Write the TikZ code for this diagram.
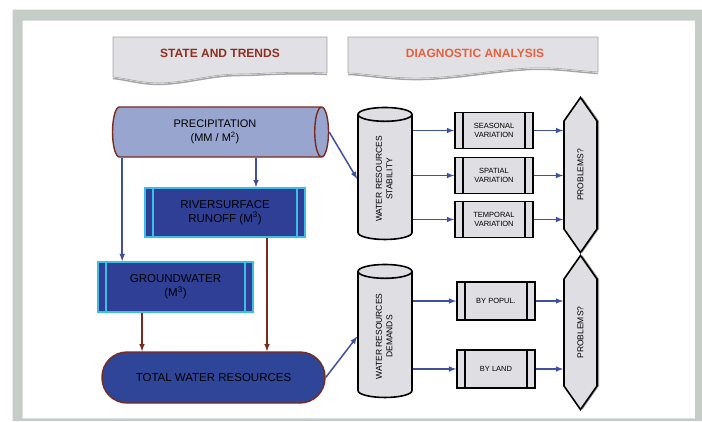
\documentclass[tikz,border=0pt]{standalone}
\usepackage{fontspec}
\setmainfont{Liberation Sans}
\usetikzlibrary{arrows}
\usetikzlibrary{shadows}
\usetikzlibrary{shapes}
\usetikzlibrary{positioning}
\definecolor{framegray}{HTML}{C6CDC9}
\definecolor{bannerfill}{HTML}{E1E1E5}
\definecolor{bannerline}{HTML}{A3A3A6}
\definecolor{statered}{HTML}{8E2F22}
\definecolor{diagorange}{HTML}{E5603F}
\definecolor{precipfill}{HTML}{97A5CF}
\definecolor{brownline}{HTML}{7A2B1E}
\definecolor{boxblue}{HTML}{2F3F95}
\definecolor{totalblue}{HTML}{2F4598}
\definecolor{cyanline}{HTML}{3DBEE6}
\definecolor{boxgray}{HTML}{DEDEE3}
\definecolor{arrowblue}{HTML}{4050A2}
\tikzset{connect/.style={draw, line width=1.5pt, arrowblue}}
\tikzset{feed/.style={draw, line width=1.5pt, brownline}}
\tikzset{precipcyl/.style={cylinder, draw=brownline, line width=1.4pt, fill=precipfill, aspect=0.45, text centered, align=center, font=\fontsize{11}{14}\selectfont}}
\tikzset{bluebox/.style={draw=cyanline, line width=1.6pt, fill=boxblue, text centered, align=center, font=\fontsize{11.5}{14}\selectfont,
  path picture={\draw[cyanline, line width=1.6pt] ([xshift=8]path picture bounding box.north west) -- ([xshift=8]path picture bounding box.south west);
                \draw[cyanline, line width=1.6pt] ([xshift=-8]path picture bounding box.north east) -- ([xshift=-8]path picture bounding box.south east);}}}
\tikzset{procbox/.style={draw, line width=1.6pt, fill=boxgray, minimum width=78, minimum height=36, text centered, align=center, font=\fontsize{7.5}{9.5}\selectfont,
  path picture={\draw[line width=1.6pt] ([xshift=8]path picture bounding box.north west) -- ([xshift=8]path picture bounding box.south west);
                \draw[line width=1.6pt] ([xshift=-8]path picture bounding box.north east) -- ([xshift=-8]path picture bounding box.south east);}}}
\tikzset{stackcyl/.style={cylinder, shape border rotate=90, draw, line width=1.6pt, fill=boxgray, aspect=0.5, minimum width=54, minimum height=132, font=\fontsize{8.5}{10.5}\selectfont}}
\tikzset{probhex/.style={signal, signal to=north and south, signal pointer angle=70, draw, line width=1.6pt, fill=boxgray, minimum width=33, minimum height=126, font=\fontsize{8.5}{10}\selectfont,
  drop shadow={shadow xshift=2pt, shadow yshift=0pt, fill=gray!80, opacity=1}}}
\tikzset{banner/.style={fill=bannerfill, draw=bannerline, line width=0.6pt}}

\begin{document}
\begin{tikzpicture}[x=1pt,y=-1pt]

\useasboundingbox (0,0) rectangle (702,421);
\fill[framegray, even odd rule] (12.5,9.5) rectangle (702,421) (22.7,20.5) rectangle (695,418.3);

%banners
\draw[gray!70, line width=1.5pt] (113,78.5) .. controls (125,79.5) and (140,84.5) .. (160,84.5) .. controls (190,83.5) and (210,75.5) .. (240,75.5) .. controls (260,75.5) and (290,72.5) .. (327,74.5);
\path[banner] (113,37) -- (327,37) -- (327,73) .. controls (290,71) and (260,74) .. (240,74) .. controls (210,74) and (190,82) .. (160,83) .. controls (140,83) and (125,78) .. (113,77) -- cycle;
\node[statered, font=\bfseries\fontsize{12}{14}\selectfont] (statetitle) at (220,53) {STATE AND TRENDS};
\draw[gray!70, line width=1.5pt] (348,74.5) .. controls (360,74.5) and (380,78.5) .. (410,79.5) .. controls (450,80.5) and (490,71.5) .. (530,69.5) .. controls (555,68.5) and (570,71.5) .. (598,73.5);
\path[banner] (348,37) -- (598,37) -- (598,72) .. controls (570,70) and (555,67) .. (530,68) .. controls (490,70) and (450,79) .. (410,78) .. controls (380,77) and (360,73) .. (348,73) -- cycle;
\node[diagorange, font=\bfseries\fontsize{12}{14}\selectfont] (diagtitle) at (475,53) {DIAGNOSTIC ANALYSIS};

%state and trends
\node[precipcyl, minimum height=216, minimum width=50] (precip) at (215,132) {PRECIPITATION\\(MM / M\textsuperscript{2})};
\node[bluebox, minimum width=160, minimum height=49] (river) at (225,212.5) {RIVERSURFACE\\RUNOFF (M\textsuperscript{3})};
\node[bluebox, minimum width=155, minimum height=50] (ground) at (175.5,287) {GROUNDWATER\\(M\textsuperscript{3})};
\node[draw=brownline, line width=1.4pt, fill=totalblue, rounded corners=25, minimum width=223, minimum height=51, font=\fontsize{11.5}{14}\selectfont] (total) at (213.5,377.5) {TOTAL WATER RESOURCES};

\path[connect,-latex] ([xshift=25]ground.north west |- precip.south) -- ([xshift=25]ground.north west);
\path[connect,-latex] ([xshift=31]river.north |- precip.south) -- ([xshift=31]river.north);
\path[feed,-latex] ([xshift=-33.5]ground.south) -- ([xshift=-33.5]ground.south |- total.north);
\path[feed,-latex] ([xshift=42]river.south) -- ([xshift=42]river.south |- total.north);

%diagnostic analysis
\node[stackcyl] (stab) at (385,179) {\rotatebox{90}{\begin{tabular}{@{}c@{}}WATER RESOURCES\\STABILITY\end{tabular}}};
\node[stackcyl, minimum height=133] (demand) at (385,336.5) {\rotatebox{90}{\begin{tabular}{@{}c@{}}WATER RESOURCES\\DEMANDS\end{tabular}}};
\path[connect,-latex] (precip.east) -- (stab.west);
\path[connect,-latex] (total.east) -- (demand.west);

\node[procbox] (season) at (494,130.5) {SEASONAL\\VARIATION};
\node[procbox] (spatial) at (494,175.5) {SPATIAL\\VARIATION};
\node[procbox] (tempo) at (494,219.5) {TEMPORAL\\VARIATION};
\node[procbox, minimum height=38] (popul) at (496,301) {BY POPUL.};
\node[procbox, minimum height=38] (land) at (496,369) {BY LAND};

\node[probhex] (probA) at (580.5,175) {\rotatebox{90}{PROBLEMS?}};
\node[probhex, minimum height=125] (probB) at (580.5,332.5) {\rotatebox{90}{PROBLEMS?}};

\foreach \var in {season,spatial,tempo}{
  \path[connect,-latex] (stab.east |- \var.west) -- (\var.west);
  \path[connect,-latex] (\var.east) -- (\var.east -| probA.west);
}
\foreach \var in {popul,land}{
  \path[connect,-latex] (demand.east |- \var.west) -- (\var.west);
  \path[connect,-latex] (\var.east) -- (\var.east -| probB.west);
}

\end{tikzpicture}
\end{document}
